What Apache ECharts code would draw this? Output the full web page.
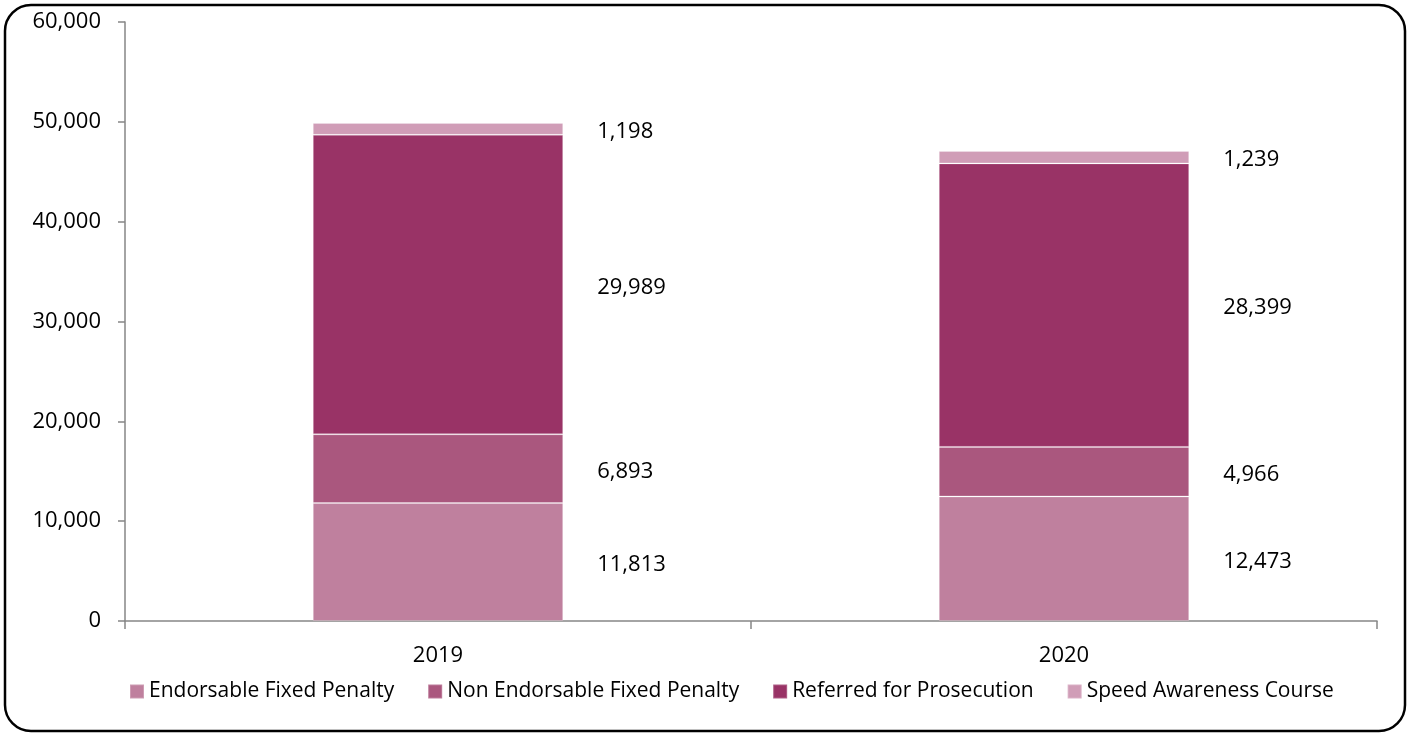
<!DOCTYPE html>
<html>
<head>
<meta charset="utf-8">
<script src="https://cdn.jsdelivr.net/npm/echarts@6/dist/echarts.min.js"></script>
<style>
  html, body { margin: 0; padding: 0; background: #ffffff; }
  #chart { width: 1411px; height: 733px; }
</style>
</head>
<body>
<div id="chart"></div>
<script>
// Speeding outcomes by year
const years = ['2019', '2020'];
const endorsableFixedPenalty = [11813, 12473];
const nonEndorsableFixedPenalty = [6893, 4966];
const referredForProsecution = [29989, 28399];
const speedAwarenessCourse = [1198, 1239];

const seriesNames = [
  'Endorsable Fixed Penalty',
  'Non Endorsable Fixed Penalty',
  'Referred for Prosecution',
  'Speed Awareness Course'
];
const seriesValues = [
  endorsableFixedPenalty,
  nonEndorsableFixedPenalty,
  referredForProsecution,
  speedAwarenessCourse
];
const seriesColors = ['#BF809E', '#AA577E', '#993366', '#D09DB7'];

const FONT = '"Open Sans", "Noto Sans", sans-serif';
const fmt = v => v.toLocaleString('en-US');

const chart = echarts.init(document.getElementById('chart'), null, { renderer: 'canvas' });

chart.setOption({
  animation: false,
  backgroundColor: '#ffffff',
  textStyle: { fontFamily: FONT, color: '#000000' },
  graphic: [{
    type: 'rect',
    z: 100,
    shape: { x: 5, y: 5, width: 1400, height: 726, r: 26 },
    style: { fill: 'none', stroke: '#000000', lineWidth: 2.5 }
  }],
  grid: { left: 125, right: 34, top: 22, bottom: 112, containLabel: false },
  legend: {
    bottom: 26,
    left: 124,
    itemWidth: 14,
    itemHeight: 14,
    itemGap: 33,
    icon: 'rect',
    textStyle: { fontFamily: FONT, fontSize: 21, color: '#000000' },
    data: seriesNames
  },
  xAxis: {
    type: 'category',
    data: years,
    axisLine: { lineStyle: { color: '#868686', width: 1.5 } },
    axisTick: { show: true, alignWithLabel: false, length: 8, lineStyle: { color: '#868686', width: 1.5 } },
    axisLabel: { fontFamily: FONT, fontSize: 22, color: '#000000', margin: 24 },
    splitLine: { show: false }
  },
  yAxis: {
    type: 'value',
    min: 0,
    max: 60000,
    interval: 10000,
    axisLine: { show: true, lineStyle: { color: '#868686', width: 1.5 } },
    axisTick: { show: true, length: 7, lineStyle: { color: '#868686', width: 1.5 } },
    axisLabel: { fontFamily: FONT, fontSize: 22, color: '#000000', margin: 24, formatter: v => fmt(v) },
    splitLine: { show: false }
  },
  series: seriesNames.map((name, i) => ({
    name,
    type: 'bar',
    stack: 'total',
    barWidth: '40%',
    data: seriesValues[i],
    itemStyle: { color: seriesColors[i], borderColor: 'rgba(255,255,255,0.22)', borderWidth: 1 },
    label: {
      show: true,
      position: 'right',
      distance: 34,
      offset: [0, 3],
      fontFamily: FONT,
      fontSize: 22,
      color: '#000000',
      formatter: p => fmt(p.value)
    }
  }))
});
</script>
</body>
</html>
